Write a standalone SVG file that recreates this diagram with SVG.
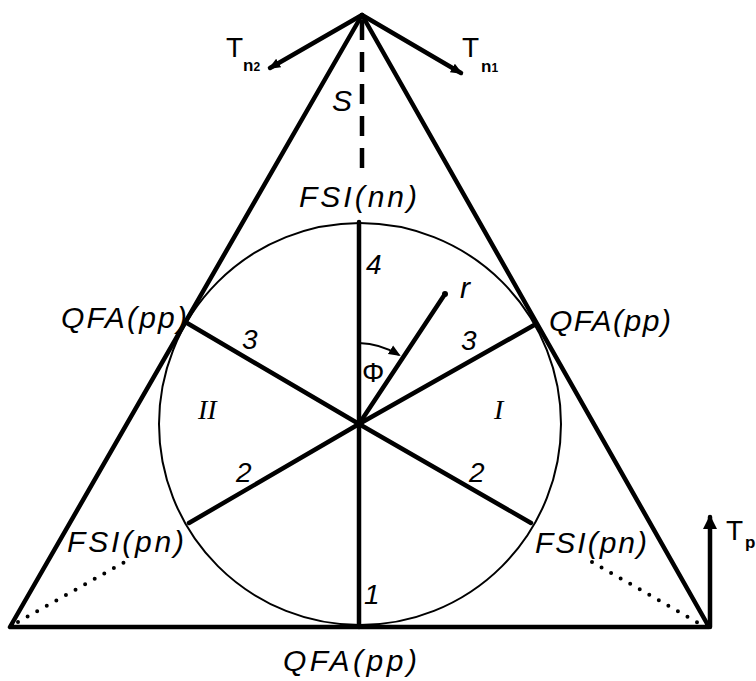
<svg xmlns="http://www.w3.org/2000/svg" width="756" height="681" viewBox="0 0 756 681">
<style>
.thick{stroke:#000;stroke-width:4.5;fill:none;stroke-linecap:round;stroke-linejoin:round}
.thin{stroke:#000;stroke-width:2;fill:none}
.lbl{font-family:"Liberation Sans",Arial,sans-serif;font-style:italic;font-size:30px;fill:#000}
.num{font-family:"Liberation Sans",Arial,sans-serif;font-style:italic;font-size:28px;fill:#000}
.roman{font-family:"Liberation Serif","Times New Roman",serif;font-style:italic;font-size:28px;fill:#000}
.t{font-family:"Liberation Sans",Arial,sans-serif;font-size:28px;fill:#000}
.sub{font-family:"Liberation Sans",Arial,sans-serif;font-size:17px;font-weight:bold;fill:#000}
</style>
<defs>
<marker id="ah" markerWidth="12" markerHeight="12" refX="10" refY="6" orient="auto" markerUnits="userSpaceOnUse">
<path d="M0,1 L12,6 L0,11 Z" fill="#000"/>
</marker>
<marker id="ahb" markerWidth="14" markerHeight="16" refX="12" refY="8" orient="auto" markerUnits="userSpaceOnUse">
<path d="M0,1 L14,8 L0,15 Z" fill="#000"/>
</marker>
</defs>
<rect width="756" height="681" fill="#fff"/>
<g id="triangle">
<polygon class="thick" points="362,15 10,627 709,627"/>
</g>
<g id="circle">
<circle class="thin" cx="360" cy="424" r="201"/>
</g>
<g id="connectors">
<line class="thick" x1="359" y1="222" x2="359" y2="627"/>
<line class="thick" x1="359" y1="424" x2="187" y2="323"/>
<line class="thick" x1="359" y1="424" x2="536" y2="324"/>
<line class="thick" x1="359" y1="424" x2="189" y2="523"/>
<line class="thick" x1="359" y1="424" x2="531" y2="523"/>
<line class="thick" x1="359" y1="424" x2="445" y2="294"/>
<circle cx="445" cy="294" r="3" fill="#000"/>
<path class="thin" d="M359,343 A81,81 0 0 1 399,355" stroke-width="2.5" marker-end="url(#ah)"/>
<line stroke="#000" stroke-width="4.5" stroke-dasharray="20 12" x1="362" y1="20" x2="362" y2="176"/>
<line class="thick" x1="362" y1="15" x2="270" y2="68" marker-end="url(#ah)"/>
<line class="thick" x1="362" y1="15" x2="461" y2="73" marker-end="url(#ah)"/>
<line class="thick" x1="710" y1="627" x2="710" y2="517" marker-end="url(#ahb)"/>
<line stroke="#000" stroke-width="4" stroke-linecap="round" stroke-dasharray="0 11" x1="18" y1="622" x2="130" y2="559"/>
<line stroke="#000" stroke-width="4" stroke-linecap="round" stroke-dasharray="0 11" x1="592" y1="562" x2="702" y2="625"/>
</g>
<g id="labels">
<text class="lbl" x="332" y="111">S</text>
<text class="lbl" x="299" y="207" textLength="118">FSI(nn)</text>
<text class="num" x="366" y="274">4</text>
<text class="lbl" x="61" y="328" textLength="126">QFA(pp)</text>
<text class="lbl" x="549" y="331" textLength="122">QFA(pp)</text>
<text class="num" x="242" y="349">3</text>
<text class="num" x="461" y="350">3</text>
<text class="lbl" x="460" y="298" font-size="28">r</text>
<text class="t" x="362" y="382" font-size="27">Φ</text>
<text class="roman" x="198" y="419">II</text>
<text class="roman" x="494" y="419">I</text>
<text class="num" x="236" y="482">2</text>
<text class="num" x="469" y="482">2</text>
<text class="lbl" x="67" y="552" textLength="117">FSI(pn)</text>
<text class="lbl" x="535" y="553" textLength="112">FSI(pn)</text>
<text class="num" x="364" y="604">1</text>
<text class="lbl" x="283" y="671" textLength="134">QFA(pp)</text>
<text class="t" x="226" y="57">T</text>
<text class="sub" x="243" y="71">n<tspan font-size="12">2</tspan></text>
<text class="t" x="462" y="57">T</text>
<text class="sub" x="481" y="72">n<tspan font-size="12">1</tspan></text>
<text class="t" x="726" y="540">T</text>
<text class="sub" x="745" y="548">p</text>
</g>
</svg>
